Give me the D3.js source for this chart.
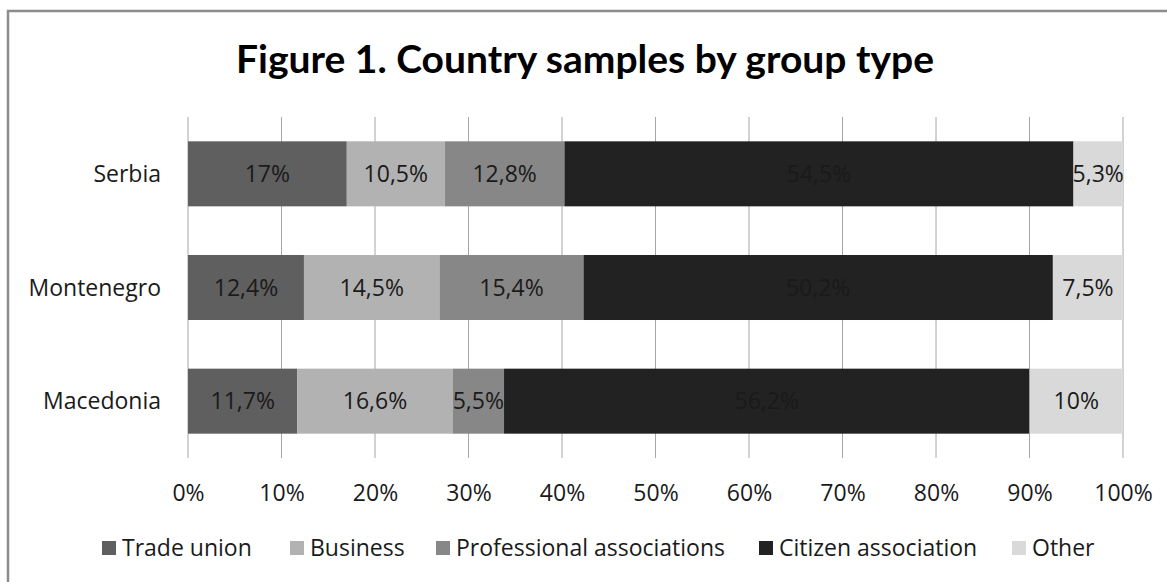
<!DOCTYPE html>
<html>
<head>
<meta charset="utf-8">
<script src="https://cdn.jsdelivr.net/npm/d3@7"></script>
<style>
  html, body { margin: 0; padding: 0; background: #ffffff; }
  svg { display: block; }
  text { font-family: "Open Sans", Lato, sans-serif; fill: #1a1a1a; }
</style>
</head>
<body>
<svg id="chart" width="1167" height="582"></svg>
<script>
// Countries, top to bottom
const countries = ["Serbia", "Montenegro", "Macedonia"];

// Group types in stacking order
const groupTypes = ["Trade union", "Business", "Professional associations", "Citizen association", "Other"];

// Share of each group type (%) per country
const tradeUnion   = [17,   12.4, 11.7];
const business     = [10.5, 14.5, 16.6];
const professional = [12.8, 15.4, 5.5];
const citizen      = [54.5, 50.2, 56.2];
const other        = [5.3,  7.5,  10];

// Percent axis ticks
const tickValues = [0, 10, 20, 30, 40, 50, 60, 70, 80, 90, 100];

const colors = ["#5f5f5f", "#b2b2b2", "#878787", "#222222", "#d9d9d9"];

const seriesValues = [tradeUnion, business, professional, citizen, other];

// One row per country, normalised to 100% like a 100%-stacked bar
const rows = countries.map((c, i) => {
  const row = { country: c };
  groupTypes.forEach((g, k) => { row[g] = seriesValues[k][i]; });
  return row;
});

const svg = d3.select("#chart");
const bodySize = "23px";

// Outer frame
svg.append("rect")
  .attr("x", 8).attr("y", 11)
  .attr("width", 1200).attr("height", 620)
  .attr("fill", "none")
  .attr("stroke", "#8c8c8c")
  .attr("stroke-width", 2.5);

// Title
svg.append("text")
  .attr("x", 585).attr("y", 73)
  .attr("text-anchor", "middle")
  .style("font-family", "Lato, 'Open Sans', sans-serif")
  .style("font-size", "39px")
  .style("font-weight", "bold")
  .style("fill", "#000")
  .text("Figure 1. Country samples by group type");

const x = d3.scaleLinear().domain([0, 100]).range([188, 1123]);
const y = d3.scaleBand().domain(countries).range([117, 458]).paddingInner(0.428).paddingOuter(0.214);

// Vertical gridlines
svg.append("g")
  .selectAll("line")
  .data(tickValues)
  .join("line")
  .attr("x1", d => x(d)).attr("x2", d => x(d))
  .attr("y1", 117).attr("y2", 458)
  .attr("stroke", "#a6a6a6")
  .attr("stroke-width", 1);

const stack = d3.stack().keys(groupTypes).offset(d3.stackOffsetExpand);
const stacked = stack(rows);

const layers = svg.append("g")
  .selectAll("g")
  .data(stacked)
  .join("g")
  .attr("fill", (d, i) => colors[i]);

layers.selectAll("rect")
  .data(d => d)
  .join("rect")
  .attr("x", d => x(d[0] * 100))
  .attr("width", d => x(d[1] * 100) - x(d[0] * 100))
  .attr("y", d => y(d.data.country))
  .attr("height", y.bandwidth());

// Value labels centred in each segment
const fmt = v => String(v).replace(".", ",") + "%";
layers.selectAll("text")
  .data((d) => d.map(s => ({ s, key: d.key })))
  .join("text")
  .attr("x", d => (x(d.s[0] * 100) + x(d.s[1] * 100)) / 2)
  .attr("y", d => y(d.s.data.country) + y.bandwidth() / 2)
  .attr("dy", "0.36em")
  .attr("text-anchor", "middle")
  .style("font-size", bodySize)
  .style("fill", "#1a1a1a")
  .text(d => fmt(d.s.data[d.key]));

// Category axis labels
svg.append("g")
  .selectAll("text")
  .data(countries)
  .join("text")
  .attr("x", 161)
  .attr("y", d => y(d) + y.bandwidth() / 2)
  .attr("dy", "0.36em")
  .attr("text-anchor", "end")
  .style("font-size", bodySize)
  .text(d => d);

// Percent axis
const xAxis = d3.axisBottom(x).tickValues(tickValues).tickSize(0).tickPadding(0).tickFormat(d => d + "%");
const gx = svg.append("g").attr("transform", "translate(0,493)").call(xAxis);
gx.select(".domain").remove();
gx.selectAll("text")
  .attr("y", 0).attr("dy", "0.36em")
  .style("font-size", bodySize)
  .style("font-family", "'Open Sans', Lato, sans-serif")
  .style("fill", "#1a1a1a");

// Legend
const legendX = [102, 290, 436, 759, 1012];
const legend = svg.append("g")
  .selectAll("g")
  .data(groupTypes)
  .join("g")
  .attr("transform", (d, i) => `translate(${legendX[i]},548)`);
legend.append("rect")
  .attr("x", 0).attr("y", -7)
  .attr("width", 14).attr("height", 14)
  .attr("fill", (d, i) => colors[i]);
legend.append("text")
  .attr("x", 20).attr("dy", "0.36em")
  .style("font-size", bodySize)
  .text(d => d);
</script>
</body>
</html>
